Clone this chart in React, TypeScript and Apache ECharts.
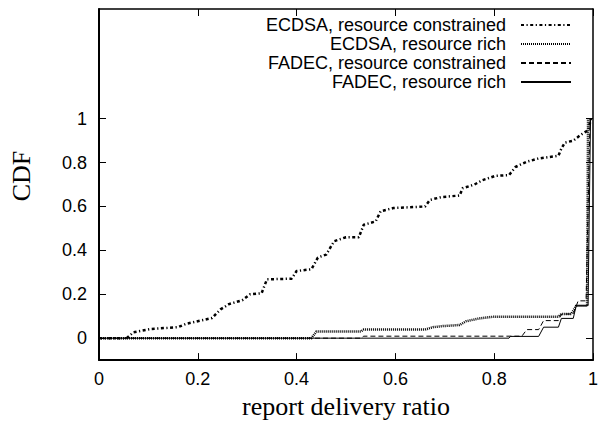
import React, { useEffect, useRef } from 'react';
import * as echarts from 'echarts';

const seriesNames = [
  'ECDSA, resource constrained',
  'ECDSA, resource rich',
  'FADEC, resource constrained',
  'FADEC, resource rich',
];

const ecdsaConstrainedX = [0, 0.056, 0.07, 0.106, 0.16, 0.176, 0.229, 0.246, 0.263, 0.29, 0.306, 0.329, 0.34, 0.39, 0.4, 0.43, 0.443, 0.46, 0.476, 0.5, 0.526, 0.536, 0.56, 0.57, 0.596, 0.66, 0.67, 0.693, 0.73, 0.736, 0.76, 0.776, 0.803, 0.83, 0.843, 0.866, 0.89, 0.93, 0.936, 0.943, 0.96, 0.976, 0.99, 0.996, 1];
const ecdsaConstrainedY = [0, 0, 0.027, 0.042, 0.05, 0.065, 0.092, 0.131, 0.155, 0.173, 0.2, 0.204, 0.268, 0.271, 0.306, 0.314, 0.367, 0.381, 0.442, 0.46, 0.46, 0.517, 0.532, 0.578, 0.593, 0.6, 0.63, 0.643, 0.65, 0.683, 0.7, 0.72, 0.74, 0.743, 0.78, 0.804, 0.819, 0.831, 0.864, 0.891, 0.9, 0.928, 0.947, 1.0, 1.0];

const ecdsaRichX = [0, 0.43, 0.44, 0.53, 0.536, 0.66, 0.676, 0.696, 0.73, 0.743, 0.77, 0.8, 0.93, 0.936, 0.956, 0.966, 0.988, 0.99];
const ecdsaRichY = [0, 0, 0.03, 0.03, 0.039, 0.039, 0.05, 0.055, 0.06, 0.077, 0.09, 0.098, 0.098, 0.11, 0.11, 0.148, 0.148, 1.0];

const fadecConstrainedX = [0, 0.53, 0.536, 0.856, 0.866, 0.89, 0.9, 0.93, 0.936, 0.96, 0.97, 0.986, 0.994];
const fadecConstrainedY = [0, 0, 0.009, 0.009, 0.039, 0.039, 0.08, 0.08, 0.11, 0.11, 0.17, 0.17, 1.0];

const fadecRichX = [0, 0.83, 0.833, 0.89, 0.9, 0.93, 0.936, 0.96, 0.966, 0.99, 0.995];
const fadecRichY = [0, 0, 0.008, 0.008, 0.05, 0.05, 0.09, 0.09, 0.148, 0.148, 1.0];

const yTickValues = [0, 0.2, 0.4, 0.6, 0.8, 1];
const legendCenters = [25, 44, 63, 82];

const zip = (xs: number[], ys: number[]) => xs.map((x, i) => [x, ys[i]]);

const lineStyles: any[] = [
  { width: 2.5, type: [3, 2.5, 1.2, 2.5] },
  { width: 2.5, type: [1, 1] },
  { width: 1, type: [5, 3] },
  { width: 1, type: 'solid' },
];

export default function App() {
  const ref = useRef<HTMLDivElement>(null);
  useEffect(() => {
    const chart = echarts.init(ref.current!, null, { renderer: 'svg' });
    const sans = 'Liberation Sans, Arial, Helvetica, sans-serif';
    const serif = 'Liberation Serif, Times New Roman, serif';
    const datasets = [
      zip(ecdsaConstrainedX, ecdsaConstrainedY),
      zip(ecdsaRichX, ecdsaRichY),
      zip(fadecConstrainedX, fadecConstrainedY),
      zip(fadecRichX, fadecRichY),
    ];
    const option: any = {
      animation: false,
      backgroundColor: '#fff',
      grid: { left: 98, right: 4, top: 9, bottom: 61, containLabel: false },
      xAxis: [
        {
          type: 'value',
          position: 'bottom',
          min: 0,
          max: 1,
          interval: 0.2,
          splitLine: { show: false },
          axisLine: { show: true, onZero: false, lineStyle: { color: '#000', width: 2 } },
          axisTick: { show: true, inside: true, length: 7, lineStyle: { color: '#000', width: 1 } },
          axisLabel: { fontSize: 18, fontFamily: sans, color: '#000', margin: 10 },
          name: 'report delivery ratio',
          nameLocation: 'middle',
          nameGap: 30,
          nameTextStyle: { fontSize: 26, fontFamily: serif, color: '#000' },
        },
        {
          type: 'value',
          position: 'top',
          min: 0,
          max: 1,
          interval: 0.2,
          splitLine: { show: false },
          axisLine: { show: true, onZero: false, lineStyle: { color: '#000', width: 1.5 } },
          axisTick: { show: true, inside: true, length: 7, lineStyle: { color: '#000', width: 1 } },
          axisLabel: { show: false },
        },
      ],
      yAxis: [
        {
          type: 'value',
          position: 'left',
          min: -0.1,
          max: 1.5,
          splitLine: { show: false },
          axisLine: { show: true, onZero: false, lineStyle: { color: '#000', width: 2 } },
          axisTick: { show: true, inside: true, length: 7, customValues: yTickValues, lineStyle: { color: '#000', width: 1 } },
          axisLabel: { fontSize: 18, fontFamily: sans, color: '#000', margin: 12, customValues: yTickValues },
          name: 'CDF',
          nameLocation: 'middle',
          nameGap: 65,
          nameTextStyle: { fontSize: 26, fontFamily: serif, color: '#000', padding: [0, 0, 0, 17] },
        },
        {
          type: 'value',
          position: 'right',
          min: -0.1,
          max: 1.5,
          splitLine: { show: false },
          axisLine: { show: true, onZero: false, lineStyle: { color: '#000', width: 1.5 } },
          axisTick: { show: true, inside: true, length: 7, customValues: yTickValues, lineStyle: { color: '#000', width: 1 } },
          axisLabel: { show: false },
        },
      ],
      legend: seriesNames.map((n, i) => ({
        data: [n],
        right: 29,
        top: legendCenters[i] - 9,
        orient: 'horizontal',
        align: 'right',
        itemWidth: 50,
        itemHeight: 12,
        padding: 0,
        selectedMode: false,
        itemStyle: { opacity: 0 },
        textStyle: { fontSize: 18, lineHeight: 18, fontFamily: sans, color: '#000', padding: [0, 10, 0, 0] },
      })),
      series: seriesNames.map((n, i) => ({
        name: n,
        type: 'line',
        xAxisIndex: 0,
        yAxisIndex: 0,
        data: datasets[i],
        symbol: 'none',
        showSymbol: false,
        clip: true,
        color: '#000',
        lineStyle: { color: '#000', ...lineStyles[i] },
        z: 10 - i,
      })),
    };
    chart.setOption(option);
    return () => chart.dispose();
  }, []);
  return <div ref={ref} style={{ position: 'absolute', left: 0, top: 0, width: 601, height: 424 }} />;
}
